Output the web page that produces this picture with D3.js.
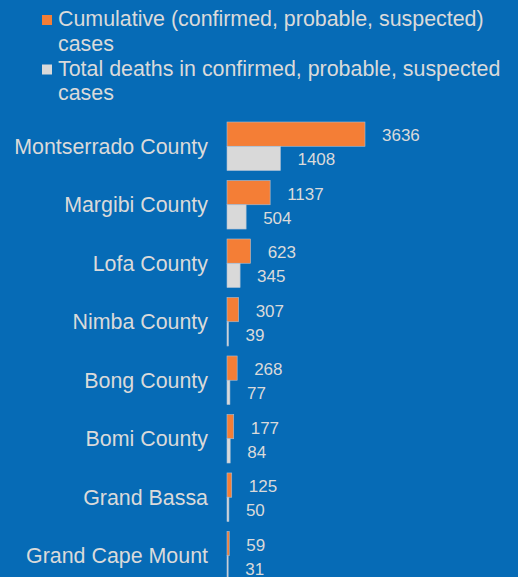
<!DOCTYPE html>
<html>
<head>
<meta charset="utf-8">
<style>
  body { margin: 0; padding: 0; background: #066bb6; }
  svg { display: block; font-family: "Liberation Sans", Arial, sans-serif; }
</style>
<script src="https://d3js.org/d3.v7.min.js"></script>
</head>
<body>
<svg id="chart" width="518" height="577"></svg>
<script>
// Data
const counties = ["Montserrado County", "Margibi County", "Lofa County", "Nimba County",
                  "Bong County", "Bomi County", "Grand Bassa", "Grand Cape Mount"];
const cases = [3636, 1137, 623, 307, 268, 177, 125, 59];
const deaths = [1408, 504, 345, 39, 77, 84, 50, 31];
// legend text as it wraps in the reference
const legendLines = [
  ["Cumulative (confirmed, probable, suspected)", "cases"],
  ["Total deaths in confirmed, probable, suspected", "cases"]
];

const colors = ["#f47e36", "#d9d9d9"];
const textColor = "#dadada";

const svg = d3.select("#chart");

const rows = counties.map((c, i) => ({ county: c, values: [cases[i], deaths[i]] }));

// Scales
const x = d3.scaleLinear()
  .domain([0, d3.max(cases)])
  .range([227, 365]);

const y = d3.scaleBand()
  .domain(counties)
  .range([122, 580])
  .paddingInner(0.17)
  .paddingOuter(0)
  .align(0);

const ySub = d3.scaleBand()
  .domain([0, 1])
  .range([0, y.bandwidth()]);

// Legend
const legend = svg.append("g").attr("class", "legend");
const legendBase = [26, 75.5];
legendLines.forEach((lines, i) => {
  legend.append("rect")
    .attr("x", 42)
    .attr("y", legendBase[i] - 11)
    .attr("width", 10)
    .attr("height", 10)
    .attr("fill", colors[i]);
  lines.forEach((t, j) => {
    legend.append("text")
      .attr("x", 58)
      .attr("y", legendBase[i] + j * 24.5)
      .attr("font-size", 21.4)
      .attr("fill", textColor)
      .text(t);
  });
});

// Category labels
svg.append("g")
  .selectAll("text")
  .data(counties)
  .enter()
  .append("text")
  .attr("x", 208)
  .attr("y", d => y(d) + y.bandwidth() / 2)
  .attr("dy", "0.35em")
  .attr("text-anchor", "end")
  .attr("font-size", 21.4)
  .attr("fill", textColor)
  .text(d => d);

// Bars
const group = svg.append("g")
  .selectAll("g")
  .data(rows)
  .enter()
  .append("g")
  .attr("transform", d => `translate(0, ${y(d.county)})`);

group.selectAll("rect")
  .data(d => d.values)
  .enter()
  .append("rect")
  .attr("x", x(0))
  .attr("y", (d, i) => ySub(i))
  .attr("width", d => x(d) - x(0))
  .attr("height", ySub.bandwidth())
  .attr("fill", (d, i) => colors[i])
  .attr("stroke", "#a9bfd6")
  .attr("stroke-width", 0.6);

// Value labels
group.selectAll("text")
  .data(d => d.values)
  .enter()
  .append("text")
  .attr("x", d => x(d) + 17)
  .attr("y", (d, i) => ySub(i) + ySub.bandwidth() / 2 + 1)
  .attr("dy", "0.35em")
  .attr("font-size", 17)
  .attr("fill", textColor)
  .text(d => d);
</script>
</body>
</html>
